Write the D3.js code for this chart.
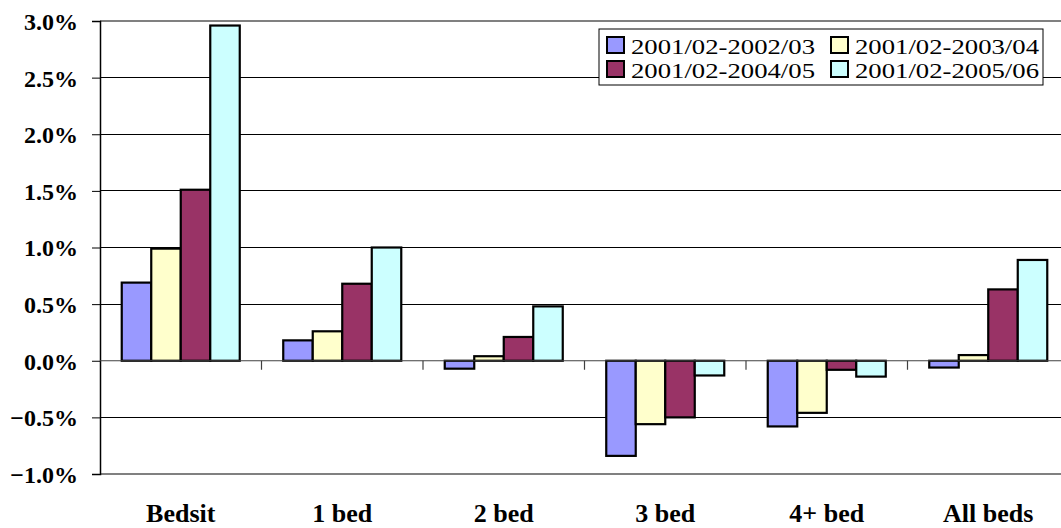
<!DOCTYPE html>
<html>
<head>
<meta charset="utf-8">
<script src="https://cdn.jsdelivr.net/npm/d3@7"></script>
<style>
  html, body { margin: 0; padding: 0; background: #fff; }
  svg { display: block; }
</style>
</head>
<body>
<svg id="chart" width="1061" height="528"></svg>
<script>
// Bedroom categories and growth series (percent change)
const categories = ["Bedsit", "1 bed", "2 bed", "3 bed", "4+ bed", "All beds"];
const seriesNames = ["2001/02-2002/03", "2001/02-2003/04", "2001/02-2004/05", "2001/02-2005/06"];
const s2002_03 = [0.0069, 0.0018, -0.0007, -0.0084, -0.0058, -0.0006];
const s2003_04 = [0.0099, 0.0026, 0.0004, -0.0056, -0.0046, 0.0005];
const s2004_05 = [0.0151, 0.0068, 0.0021, -0.0050, -0.0008, 0.0063];
const s2005_06 = [0.0296, 0.0100, 0.0048, -0.0013, -0.0014, 0.0089];
const seriesColors = ["#9999FF", "#FFFFCC", "#993366", "#CCFFFF"];
const yTicks = [-0.01, -0.005, 0, 0.005, 0.01, 0.015, 0.02, 0.025, 0.03];

const seriesValues = [s2002_03, s2003_04, s2004_05, s2005_06];
const FONT = "Liberation Serif, Tinos, Times New Roman, DejaVu Serif, serif";

const svg = d3.select("#chart");
const plotLeft = 100, plotTop = 21, plotBottom = 474, plotRight = 1069;

const x = d3.scaleBand().domain(categories).range([plotLeft, plotRight]).paddingInner(0).paddingOuter(0);
const xSub = d3.scaleBand().domain(d3.range(seriesNames.length))
  .range([0, x.bandwidth()]).paddingOuter(0.737).paddingInner(0);
const y = d3.scaleLinear().domain([-0.01, 0.03]).range([plotBottom, plotTop]);

// horizontal gridlines (plot frame top/bottom drawn grey)
svg.append("g").selectAll("line").data(yTicks.filter(t => t !== 0)).join("line")
  .attr("x1", plotLeft).attr("x2", 1061)
  .attr("y1", d => y(d)).attr("y2", d => y(d))
  .attr("stroke", d => (d === 0.03 || d === -0.01) ? "#808080" : "#000")
  .attr("stroke-width", d => (d === 0.03 || d === -0.01) ? 2 : 1)
  .attr("shape-rendering", "crispEdges");

// y axis
const yAxis = svg.append("g").attr("transform", `translate(${plotLeft},0)`)
  .call(d3.axisLeft(y).tickValues(yTicks).tickFormat(d3.format(".1%")).tickSize(8).tickPadding(14))
  .style("font-family", FONT).attr("font-size", 24);
yAxis.select(".domain").attr("stroke", "#000").attr("stroke-width", 1.5);
yAxis.selectAll(".tick line").attr("stroke", "#000");
yAxis.selectAll(".tick text")
  .style("font-family", FONT)
  .attr("font-size", 24).attr("font-weight", "bold")
  .attr("fill", "#000")
  .attr("dy", "0.35em");

// grouped bars
const groups = svg.append("g").selectAll("g").data(categories).join("g")
  .attr("transform", d => `translate(${x(d)},0)`);
groups.selectAll("rect")
  .data((c, i) => seriesValues.map((vals, s) => ({ s, v: vals[i] })))
  .join("rect")
  .attr("x", d => xSub(d.s))
  .attr("width", xSub.bandwidth())
  .attr("y", d => y(Math.max(0, d.v)))
  .attr("height", d => Math.abs(y(d.v) - y(0)))
  .attr("fill", d => seriesColors[d.s])
  .attr("stroke", "#000").attr("stroke-width", 2.2);

// category axis along zero
const xAxis = svg.append("g").attr("transform", `translate(0,${y(0)})`);
xAxis.append("line").attr("x1", plotLeft).attr("x2", 1061).attr("y1", 0).attr("y2", 0)
  .attr("stroke", "#404040").attr("stroke-width", 1.2);
xAxis.selectAll("line.tk").data(categories.slice(1)).join("line").attr("class", "tk")
  .attr("x1", d => x(d)).attr("x2", d => x(d)).attr("y1", 0).attr("y2", 9)
  .attr("stroke", "#404040").attr("stroke-width", 1.2);

// category labels
svg.append("g").selectAll("text").data(categories).join("text")
  .attr("x", d => x(d) + x.bandwidth() / 2)
  .attr("y", 522)
  .attr("text-anchor", "middle")
  .style("font-family", FONT)
  .attr("font-size", 26).attr("font-weight", "bold")
  .text(d => d);

// legend
const legend = svg.append("g");
legend.append("rect").attr("x", 599).attr("y", 29).attr("width", 444).attr("height", 56)
  .attr("fill", "#fff").attr("stroke", "#000").attr("stroke-width", 1);
const legendPos = [[607, 37], [831, 37], [607, 61], [831, 61]];
seriesNames.forEach((name, s) => {
  const [lx, ly] = legendPos[s];
  legend.append("rect").attr("x", lx).attr("y", ly).attr("width", 17).attr("height", 16)
    .attr("fill", seriesColors[s]).attr("stroke", "#000").attr("stroke-width", 2);
  legend.append("text").attr("x", lx + 24).attr("y", ly + 17)
    .style("font-family", FONT)
    .attr("font-size", 22)
    .attr("textLength", 184).attr("lengthAdjust", "spacingAndGlyphs")
    .text(name);
});
</script>
</body>
</html>
